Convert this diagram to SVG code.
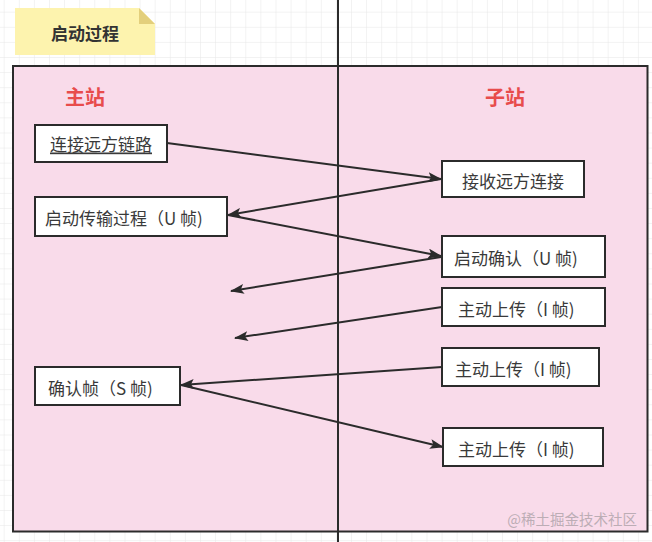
<svg xmlns="http://www.w3.org/2000/svg" width="652" height="542" viewBox="0 0 652 542">
<defs>
<pattern id="grid" x="3.7" y="11.7" width="15.1" height="15.1" patternUnits="userSpaceOnUse">
<path d="M0 0 H15.1 M0 0 V15.1" fill="none" stroke="#e6e6e6" stroke-width="1"/>
</pattern>
<marker id="arr" viewBox="0 0 14 10" refX="13" refY="5" markerWidth="14" markerHeight="10" markerUnits="userSpaceOnUse" orient="auto">
<path d="M0 0 L14 5 L0 10 L3 5 Z" fill="#2b2b2b"/>
</marker>
<style>
.box{fill:#ffffff;stroke:#2b2b2b;stroke-width:2}
.t{font-family:"Noto Sans CJK SC","Noto Sans",sans-serif;font-size:17px;fill:#3a3a3a;dominant-baseline:central}
.lane{font-family:"Noto Sans CJK SC","Noto Sans",sans-serif;font-size:20px;font-weight:bold;fill:#e84c4c;text-anchor:middle;dominant-baseline:central}
.c{fill:none;stroke:#2b2b2b;stroke-width:2;marker-end:url(#arr)}
</style>
</defs>
<rect x="0" y="0" width="652" height="542" fill="#ffffff"/>
<rect x="0" y="0" width="652" height="542" fill="url(#grid)"/>

<g id="note">
<path d="M15 8 H139 L155 24 V55 H15 Z" fill="#fdf3ae"/>
<path d="M139 8 L155 24 H139 Z" fill="#e3cf7c"/>
<text x="85" y="32" class="t" style="font-weight:bold;font-size:17px;text-anchor:middle;fill:#333333">启动过程</text>
</g>

<g id="container">
<rect x="13" y="66" width="634.5" height="465.5" fill="#f9dbea" stroke="#2b2b2b" stroke-width="2"/>
</g>

<g id="lifeline">
<line x1="338" y1="0" x2="338" y2="542" stroke="#2b2b2b" stroke-width="2"/>
</g>

<g id="lane-master"><text x="85" y="96" class="lane">主站</text></g>
<g id="lane-slave"><text x="505" y="96" class="lane">子站</text></g>

<g id="connectors">
<line class="c" x1="167" y1="143" x2="441" y2="179"/>
<line class="c" x1="441" y1="179" x2="228" y2="215"/>
<line class="c" x1="228" y1="215" x2="441" y2="256"/>
<line class="c" x1="441" y1="257" x2="231" y2="291"/>
<line class="c" x1="442" y1="307" x2="235" y2="338"/>
<line class="c" x1="442" y1="367" x2="181" y2="385"/>
<line class="c" x1="181" y1="385" x2="443" y2="447"/>
</g>

<g id="n1"><rect class="box" x="35" y="125" width="132" height="37"/><text x="101" y="143" class="t" style="text-anchor:middle;text-decoration:underline">连接远方链路</text></g>
<g id="n2"><rect class="box" x="35" y="197" width="192" height="39"/><text x="45" y="217" class="t">启动传输过程（U 帧)</text></g>
<g id="n3"><rect class="box" x="442" y="161" width="142" height="36"/><text x="513" y="180" class="t" style="text-anchor:middle">接收远方连接</text></g>
<g id="n4"><rect class="box" x="442" y="236" width="163" height="41"/><text x="454" y="257" class="t">启动确认（U 帧)</text></g>
<g id="n5"><rect class="box" x="442" y="288" width="163" height="38"/><text x="458" y="308" class="t">主动上传（I 帧)</text></g>
<g id="n6"><rect class="box" x="442" y="348" width="157" height="38"/><text x="455" y="368" class="t">主动上传（I 帧)</text></g>
<g id="n7"><rect class="box" x="443" y="428" width="160" height="38"/><text x="458" y="448" class="t">主动上传（I 帧)</text></g>
<g id="n8"><rect class="box" x="35" y="367" width="145" height="38"/><text x="48" y="387" class="t">确认帧（S 帧)</text></g>

<text x="637" y="518" style="font-family:'Noto Sans CJK SC','Noto Sans',sans-serif;font-size:14.5px;fill:#bcadb5;text-anchor:end;dominant-baseline:central">@稀土掘金技术社区</text>
</svg>
